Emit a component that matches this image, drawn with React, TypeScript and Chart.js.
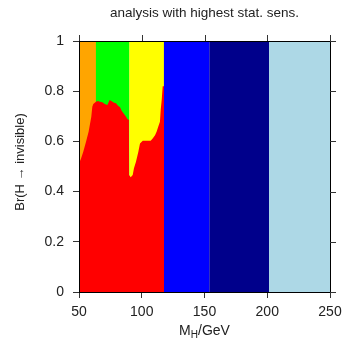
import React, { useEffect, useRef } from "react";
import { Chart, registerables } from "chart.js";

Chart.register(...registerables);

const chartTitle = "analysis with highest stat. sens.";
const yTitle = "Br(H \u2192 invisible)";
const xTitleMain = "M";
const xTitleSub = "H";
const xTitleRest = "/GeV";

// analysis regions (x boundaries in GeV) and colours
const bandEdges = [50, 63.3, 90, 117.5, 153.8, 201.4, 250];
const bandColors = ["#FFA500", "#00FF00", "#FFFF00", "#0000FF", "#00008B", "#ADD8E6"];
const bandTop = 1;

// red region (upper boundary)
const redX = [50, 50.2, 51.5, 53.4, 55.6, 57.7, 59.8, 60.6, 61.4, 63.5, 65.1, 66.7, 68.6, 70.5, 72.6, 74.4, 75.8, 77.9, 79.5, 81.1, 82.7, 84, 85.9, 87.5, 88.5, 89.8, 89.9, 91.2, 92.8, 93.8, 95.4, 97.3, 98.6, 100.8, 103.9, 107.1, 108.7, 110.6, 111.9, 113.2, 114.5, 115.1, 115.9, 116.7, 117.8];
const redY = [0.495, 0.515, 0.53, 0.559, 0.599, 0.639, 0.698, 0.738, 0.749, 0.758, 0.761, 0.758, 0.756, 0.749, 0.745, 0.765, 0.761, 0.754, 0.752, 0.742, 0.736, 0.722, 0.709, 0.698, 0.689, 0.685, 0.466, 0.457, 0.466, 0.493, 0.519, 0.559, 0.592, 0.603, 0.603, 0.603, 0.612, 0.625, 0.639, 0.659, 0.678, 0.725, 0.765, 0.82, 0.82];
const redColor = "#FF0000";

const xTicks = [50, 100, 150, 200, 250];
const yTicks = [0, 0.2, 0.4, 0.6, 0.8, 1];

const FONT = "'Liberation Sans', Arial, sans-serif";
const TEXT = "#222";
const SEAM = 0.4; // small overlap so adjacent fills show no seam

const framePlugin = {
  id: "framePlugin",
  afterDatasetsDraw(chart: any) {
    const { ctx, chartArea } = chart;
    const { left, right, top, bottom } = chartArea;
    const xs = chart.scales.x;
    const ys = chart.scales.y;
    ctx.save();
    ctx.strokeStyle = "#000";
    ctx.lineWidth = 1;
    ctx.strokeRect(Math.round(left) + 0.5, Math.round(top) + 0.5, Math.round(right - left), Math.round(bottom - top));
    ctx.strokeStyle = "#333";
    ctx.beginPath();
    xTicks.forEach((v) => {
      const px = Math.round(xs.getPixelForValue(v)) + 0.5;
      ctx.moveTo(px, top);
      ctx.lineTo(px, top - 6);
    });
    yTicks.forEach((v) => {
      const py = Math.round(ys.getPixelForValue(v)) + 0.5;
      ctx.moveTo(right, py);
      ctx.lineTo(right + 6, py);
    });
    ctx.stroke();
    ctx.restore();
  },
  afterDraw(chart: any) {
    const { ctx, chartArea } = chart;
    const cx = (chartArea.left + chartArea.right) / 2;
    ctx.save();
    ctx.fillStyle = TEXT;
    ctx.textBaseline = "alphabetic";
    ctx.textAlign = "center";
    ctx.font = `13.5px ${FONT}`;
    ctx.fillText(chartTitle, cx, 17);

    // x title with subscript
    const mainFont = `14px ${FONT}`;
    const subFont = `10px ${FONT}`;
    ctx.font = mainFont;
    const wM = ctx.measureText(xTitleMain).width;
    const wR = ctx.measureText(xTitleRest).width;
    ctx.font = subFont;
    const wS = ctx.measureText(xTitleSub).width;
    const total = wM + wS + wR;
    let x0 = cx - total / 2;
    const base = 335;
    ctx.textAlign = "left";
    ctx.font = mainFont;
    ctx.fillText(xTitleMain, x0, base);
    x0 += wM;
    ctx.font = subFont;
    ctx.fillText(xTitleSub, x0, base + 3);
    x0 += wS;
    ctx.font = mainFont;
    ctx.fillText(xTitleRest, x0, base);

    // y title rotated
    ctx.translate(24, 162);
    ctx.rotate(-Math.PI / 2);
    ctx.textAlign = "center";
    ctx.font = `13px ${FONT}`;
    ctx.fillText(yTitle, 0, 0);
    ctx.restore();
  },
};

export default function App() {
  const ref = useRef<HTMLCanvasElement | null>(null);
  useEffect(() => {
    if (!ref.current) return;
    const redDataset = {
      label: "red",
      data: redX.map((x, i) => ({ x, y: redY[i] })),
      backgroundColor: redColor,
      borderWidth: 0,
      pointRadius: 0,
      fill: "origin",
      tension: 0,
      order: 0,
    };
    const last = bandColors.length - 1;
    const bandDatasets = bandColors.map((c, i) => ({
      label: "band" + i,
      data: [
        { x: bandEdges[i], y: bandTop },
        { x: bandEdges[i + 1] + (i < last ? SEAM : 0), y: bandTop },
      ],
      backgroundColor: c,
      borderWidth: 0,
      pointRadius: 0,
      fill: "origin",
      order: 20 - i,
    }));
    const chart = new Chart(ref.current, {
      type: "line",
      data: { datasets: [redDataset, ...bandDatasets] as any },
      options: {
        responsive: false,
        animation: false,
        layout: { padding: { top: 41, right: 15, left: 0, bottom: 0 } },
        plugins: {
          legend: { display: false },
          tooltip: { enabled: false },
          title: { display: false },
        },
        scales: {
          x: {
            type: "linear",
            min: 50,
            max: 250,
            afterFit(s: any) {
              s.height = 48;
              s.paddingLeft = 0;
              s.paddingRight = 0;
            },
            afterBuildTicks(s: any) {
              s.ticks = xTicks.map((v) => ({ value: v }));
            },
            ticks: {
              font: { family: FONT, size: 14 },
              color: TEXT,
              padding: 6,
              maxRotation: 0,
              autoSkip: false,
            },
            grid: { drawOnChartArea: false, tickLength: 6, color: "#333" },
            border: { display: false },
          },
          y: {
            min: 0,
            max: 1,
            afterFit(s: any) {
              s.width = 79;
              s.paddingTop = 0;
              s.paddingBottom = 0;
            },
            afterBuildTicks(s: any) {
              s.ticks = yTicks.map((v) => ({ value: v }));
            },
            ticks: {
              font: { family: FONT, size: 14 },
              color: TEXT,
              padding: 9,
              callback: (v: any) => String(Math.round(Number(v) * 10) / 10),
            },
            grid: { drawOnChartArea: false, tickLength: 6, color: "#333" },
            border: { display: false },
          },
        },
      } as any,
      plugins: [framePlugin],
    });
    return () => chart.destroy();
  }, []);
  return (
    <div style={{ position: "absolute", left: 0, top: 0, width: 345, height: 340 }}>
      <canvas ref={ref} width={345} height={340} style={{ width: 345, height: 340 }} />
    </div>
  );
}
